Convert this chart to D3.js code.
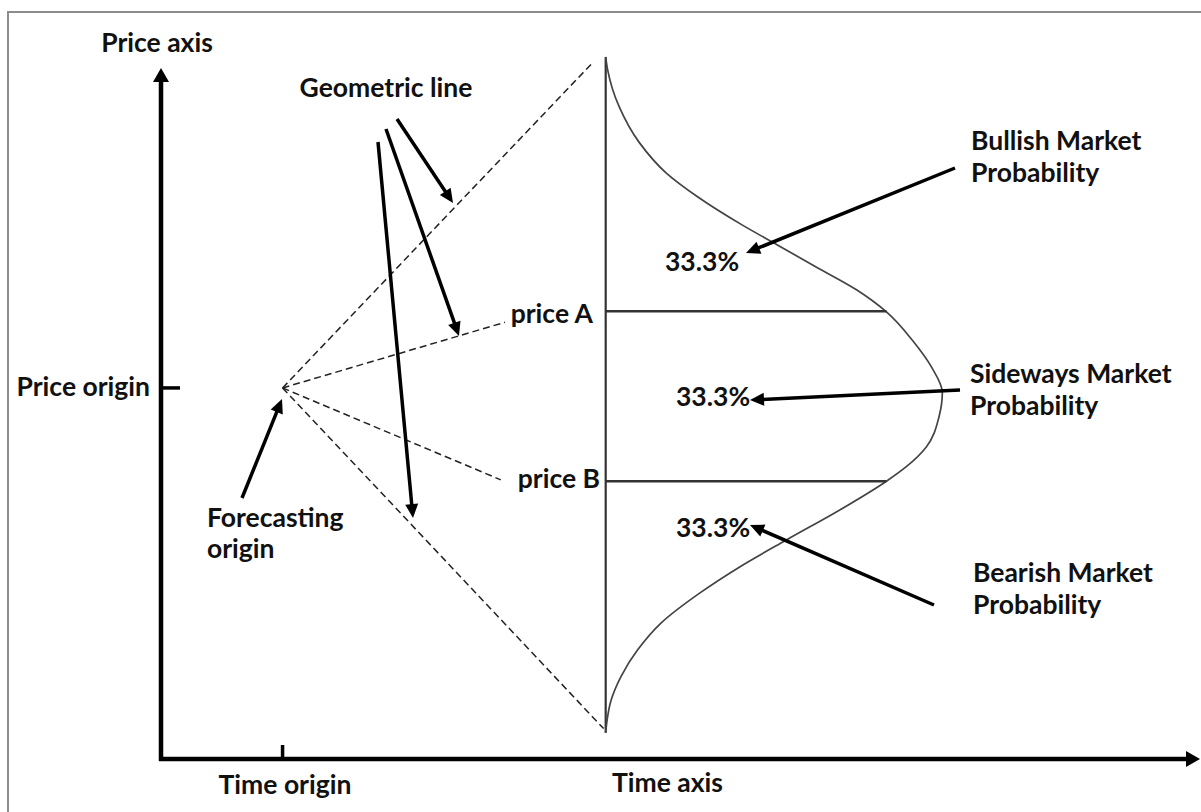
<!DOCTYPE html>
<html lang="en">

<head>
  <meta charset="UTF-8">
  <title>Price forecasting probability</title>
  <style>
    body { margin: 0; background: #fff; }
    text { font-family: Lato, "Open Sans", sans-serif; font-weight: 700; fill: #111; }
  </style>
</head>

<body>
  <svg width="1201" height="812"></svg>
  <script src="https://cdn.jsdelivr.net/npm/d3@7/dist/d3.min.js"></script>
  <script>
    // sketch units: time and price both run 0..100 along the axes
    var timeOrigin = 11.7
    var priceOrigin = 53.7
    var horizon = 42.8      // time where the bell curve sits
    var peakTime = 75.2     // how far the bell bulges out (density = 1)
    var bellTop = 101.6
    var bellBottom = 3.8

    var levelNames = ["price A", "price B"]
    var levelPrices = [64.8, 40.2]
    var levelDensity = [0.834, 0.834]

    // end points of the dashed geometric lines
    var geoEndTime = [41.5, 33.1, 32.7, 42.6]
    var geoEndPrice = [100.7, 63.2, 40.4, 4.4]

    // bell curve: price level and relative density
    var bellPrice = [101.6, 99.7, 94.4, 89.2, 84.8, 81.3, 77.3, 74.4, 71.2, 67.9, 64.7, 60.6, 56.7, 53.0,
      49.5, 45.2, 42.3, 40.2, 36.0, 31.7, 27.8, 24.0, 19.7, 15.8, 11.9, 8.5, 5.2, 3.8]
    var bellDensity = [0, 0.006, 0.04, 0.1, 0.18, 0.275, 0.405, 0.51, 0.625, 0.745, 0.834, 0.911, 0.968, 1.0,
      0.99, 0.953, 0.893, 0.834, 0.694, 0.537, 0.398, 0.279, 0.165, 0.095, 0.045, 0.016, 0.003, 0]

    var probLabels = ["33.3%", "33.3%", "33.3%"]
    var marketLabels = [["Bullish Market", "Probability"], ["Sideways Market", "Probability"], ["Bearish Market", "Probability"]]

    var svg = d3.select("svg")
    var fontSize = 26.5

    var x = d3.scaleLinear().domain([0, 100]).range([161, 1200])
    var y = d3.scaleLinear().domain([0, 100]).range([759, 68])
    var dens = d3.scaleLinear().domain([0, 1]).range([x(horizon), x(peakTime)])

    // grey frame (only top and left show)
    svg.append("path")
      .attr("d", "M8,812 L8,12 L1201,12")
      .attr("fill", "none")
      .attr("stroke", "#8c8c8c")
      .attr("stroke-width", 2)

    // draws a straight arrow with a solid triangular head
    function arrow(g, x1, y1, x2, y2, w, len, half) {
      var a = Math.atan2(y2 - y1, x2 - x1)
      var bx = x2 - Math.cos(a) * len
      var by = y2 - Math.sin(a) * len
      g.append("line")
        .attr("x1", x1).attr("y1", y1)
        .attr("x2", bx + Math.cos(a) * 2).attr("y2", by + Math.sin(a) * 2)
        .attr("stroke", "#000")
        .attr("stroke-width", w)
      var px = -Math.sin(a) * half, py = Math.cos(a) * half
      g.append("path")
        .attr("d", "M" + x2 + "," + y2 + "L" + (bx + px) + "," + (by + py) + "L" + (bx - px) + "," + (by - py) + "Z")
        .attr("fill", "#000")
    }

    // axes
    var axes = svg.append("g")
    arrow(axes, x(0), y(0) + 2, x(0), y(100), 4.5, 14, 8)
    arrow(axes, x(0) - 2, y(0), x(100), y(0), 4.5, 14, 8)
    axes.append("line")
      .attr("x1", x(0)).attr("x2", x(0) + 19)
      .attr("y1", y(priceOrigin)).attr("y2", y(priceOrigin))
      .attr("stroke", "#000").attr("stroke-width", 3.5)
    axes.append("line")
      .attr("x1", x(timeOrigin)).attr("x2", x(timeOrigin))
      .attr("y1", y(0)).attr("y2", y(0) - 14)
      .attr("stroke", "#000").attr("stroke-width", 3.5)

    // dashed geometric lines out of the forecasting origin
    svg.append("g")
      .selectAll("line")
      .data(geoEndTime)
      .enter()
      .append("line")
      .attr("x1", x(timeOrigin))
      .attr("y1", y(priceOrigin))
      .attr("x2", function (d) { return x(d) })
      .attr("y2", function (d, i) { return y(geoEndPrice[i]) })
      .attr("stroke", "#222")
      .attr("stroke-width", 1.5)
      .attr("stroke-dasharray", "7,4")

    // bell curve
    var bell = svg.append("g")
    bell.append("line")
      .attr("x1", x(horizon)).attr("x2", x(horizon))
      .attr("y1", y(bellTop)).attr("y2", y(bellBottom))
      .attr("stroke", "#333")
      .attr("stroke-width", 2.2)

    var bellPts = bellPrice.map(function (p, i) { return [p, bellDensity[i]] })
    var line = d3.line()
      .x(function (d) { return dens(d[1]) })
      .y(function (d) { return y(d[0]) })
      .curve(d3.curveMonotoneY)
    bell.append("path")
      .attr("d", line(bellPts))
      .attr("fill", "none")
      .attr("stroke", "#444")
      .attr("stroke-width", 1.7)

    bell.selectAll(".level")
      .data(levelPrices)
      .enter()
      .append("line")
      .attr("class", "level")
      .attr("x1", x(horizon))
      .attr("x2", function (d, i) { return dens(levelDensity[i]) })
      .attr("y1", function (d) { return y(d) })
      .attr("y2", function (d) { return y(d) })
      .attr("stroke", "#333")
      .attr("stroke-width", 2.5)

    // labels
    var txt = svg.append("g").style("font-size", fontSize + "px")
    txt.append("text").attr("x", 157).attr("y", 52).attr("text-anchor", "middle").text("Price axis")
    txt.append("text").attr("x", 150).attr("y", 396).attr("text-anchor", "end").text("Price origin")
    txt.append("text").attr("x", 386).attr("y", 97).attr("text-anchor", "middle").text("Geometric line")
    txt.append("text").attr("x", 285).attr("y", 794).attr("text-anchor", "middle").text("Time origin")
    txt.append("text").attr("x", 612).attr("y", 792).text("Time axis")
    txt.append("text").attr("x", 207).attr("y", 527).text("Forecasting")
    txt.append("text").attr("x", 207).attr("y", 558).text("origin")

    var levelLabelX = [593, 600]
    txt.selectAll(".lvl")
      .data(levelNames)
      .enter()
      .append("text")
      .attr("class", "lvl")
      .attr("x", function (d, i) { return levelLabelX[i] })
      .attr("y", function (d, i) { return y(levelPrices[i]) + 12 + (i == 0 ? 0 : -5) })
      .attr("text-anchor", "end")
      .text(function (d) { return d })

    var probPos = [[665, 271], [676, 406], [676, 537]]
    txt.selectAll(".prob")
      .data(probLabels)
      .enter()
      .append("text")
      .attr("class", "prob")
      .attr("x", function (d, i) { return probPos[i][0] })
      .attr("y", function (d, i) { return probPos[i][1] })
      .text(function (d) { return d })

    var marketPos = [[971, 150], [970, 383], [973, 582]]
    marketLabels.forEach(function (lines, i) {
      var t = txt.append("text")
        .attr("x", marketPos[i][0])
        .attr("y", marketPos[i][1])
      lines.forEach(function (s, j) {
        t.append("tspan")
          .attr("x", marketPos[i][0])
          .attr("dy", j == 0 ? 0 : 32)
          .text(s)
      })
    })

    // pointer arrows
    var ann = svg.append("g")
    var pointers = [
      [397, 119, 453, 203],
      [386, 129, 459, 336],
      [378, 142, 413, 518],
      [242, 498, 282, 399],
      [955, 168, 746, 253],
      [960, 390, 750, 400],
      [934, 605, 750, 525]
    ]
    pointers.forEach(function (p) {
      arrow(ann, p[0], p[1], p[2], p[3], 3.5, 14, 6.5)
    })
  </script>
</body>

</html>
